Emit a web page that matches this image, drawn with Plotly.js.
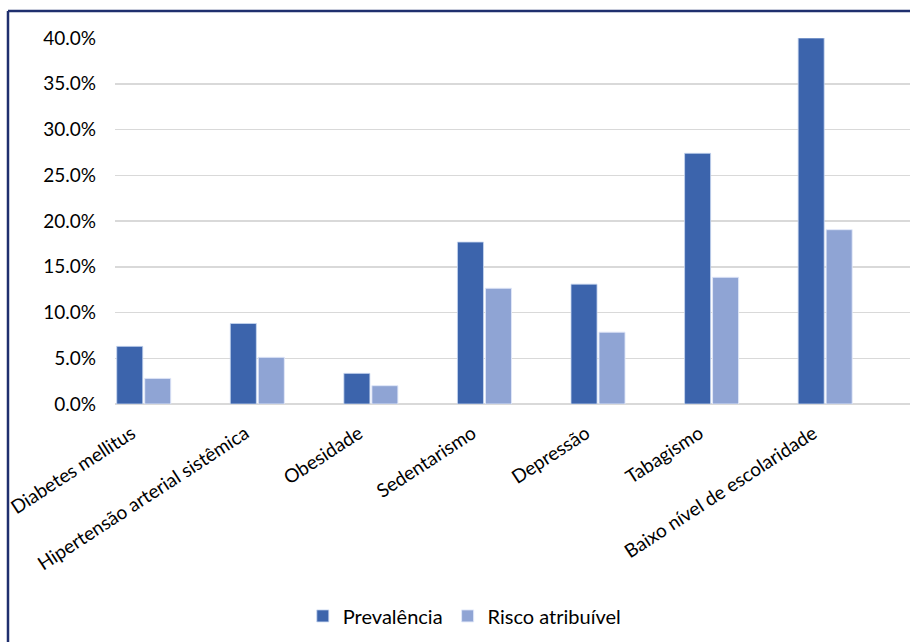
<!DOCTYPE html>
<html>
<head>
<meta charset="utf-8">
<script src="https://cdn.plot.ly/plotly-3.0.1.min.js"></script>
<style>html,body{margin:0;padding:0;background:#fff;}#chart{width:910px;height:642px;}</style>
</head>
<body>
<div id="chart"></div>
<script>
const categories = ["Diabetes mellitus", "Hipertensão arterial sistêmica", "Obesidade", "Sedentarismo", "Depressão", "Tabagismo", "Baixo nível de escolaridade"];
const prevalencia = [6.3, 8.8, 3.35, 17.7, 13.1, 27.4, 40.0];
const riscoAtribuivel = [2.8, 5.1, 2.0, 12.65, 7.85, 13.85, 19.05];
const seriesNames = ["Prevalência", "Risco atribuível"];
const yTicks = [0, 5, 10, 15, 20, 25, 30, 35, 40];

const fam = "Lato, 'Open Sans', sans-serif";

const traces = [
  {type: "bar", name: seriesNames[0], x: categories, y: prevalencia,
   marker: {color: "#3C64AC", line: {color: "rgba(200,215,240,0.8)", width: 1}}, hoverinfo: "skip"},
  {type: "bar", name: seriesNames[1], x: categories, y: riscoAtribuivel,
   marker: {color: "#8FA4D4", line: {color: "rgba(225,232,248,0.9)", width: 1}}, hoverinfo: "skip"}
];

const layout = {
  width: 910, height: 642,
  margin: {l: 115, r: 0, t: 38, b: 238, pad: 0},
  paper_bgcolor: "#fff", plot_bgcolor: "#fff",
  font: {family: fam, size: 19, color: "#000"},
  barmode: "group", bargap: 0.507, bargroupgap: 0.07,
  showlegend: true,
  legend: {orientation: "h", x: 0.44, xanchor: "center", y: -0.579, yanchor: "middle",
           font: {family: fam, size: 20, color: "#000"}, itemwidth: 30, traceorder: "normal"},
  xaxis: {type: "category", range: [-0.253, 6.747], tickangle: -33, showgrid: false,
          showline: false, ticks: "", tickfont: {family: fam, size: 19, color: "#000"},
          ticklabelshift: -12, ticklabelstandoff: 14, fixedrange: true},
  yaxis: {range: [0, 40], tickvals: yTicks, ticktext: yTicks.map(v => v.toFixed(1) + "%"),
          showgrid: true, gridcolor: "#d9d9d9", gridwidth: 1.5, zeroline: true,
          zerolinecolor: "#d9d9d9", zerolinewidth: 1.5, showline: false, ticks: "",
          ticklabelstandoff: 18, tickfont: {family: fam, size: 19, color: "#000"},
          fixedrange: true},
  shapes: [
    {type: "line", xref: "paper", yref: "paper", x0: -0.1346, x1: 1.01, y0: 1.0738, y1: 1.0738,
     line: {color: "#1F2F6E", width: 2.5}},
    {type: "line", xref: "paper", yref: "paper", x0: -0.1346, x1: -0.1346, y0: 1.0738, y1: -0.66,
     line: {color: "#1F2F6E", width: 2.5}}
  ]
};

Plotly.newPlot("chart", traces, layout, {displayModeBar: false, staticPlot: true});
</script>
</body>
</html>
